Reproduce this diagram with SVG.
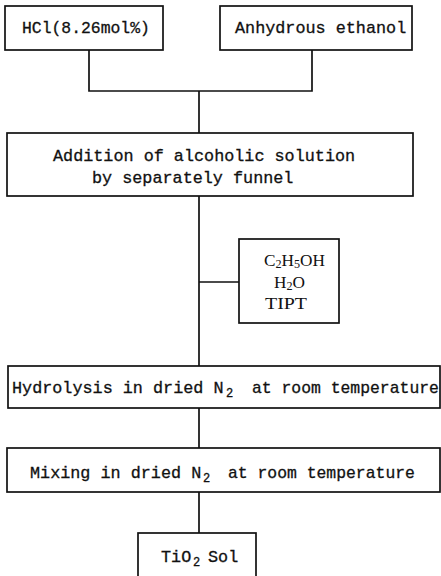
<svg xmlns="http://www.w3.org/2000/svg" width="441" height="576" viewBox="0 0 441 576">
<style>
.box{fill:#fff;stroke:#111;stroke-width:1.7}
.ln{fill:none;stroke:#111;stroke-width:1.7}
.t{font-family:"Liberation Mono","DejaVu Sans Mono",monospace;font-size:16.8px;fill:#111;stroke:#111;stroke-width:0.3}
.n{font-size:16.4px}
.s{font-family:"Liberation Serif","DejaVu Serif",serif;font-size:17px;fill:#111}
.sub{font-size:12px}
</style>
<rect width="441" height="576" fill="#fff"/>
<g id="connectors">
<path class="ln" d="M89 50V91H312V50M199 91V133M199 196V366M199 282H239M199 408V448M199 492V533"/>
</g>
<g id="hcl">
<rect class="box" x="5" y="6" width="158" height="44"/>
<text class="t n" x="22" y="33">HCl(8.26mol%)</text>
</g>
<g id="ethanol">
<rect class="box" x="220" y="6" width="192" height="44"/>
<text class="t" x="235" y="33">Anhydrous ethanol</text>
</g>
<g id="addition">
<rect class="box" x="7" y="133" width="406" height="63"/>
<text class="t" x="53" y="161">Addition of alcoholic solution</text>
<text class="t" x="92" y="183">by separately funnel</text>
</g>
<g id="reagents">
<rect class="box" x="239" y="239" width="100" height="84"/>
<text class="s" x="264" y="266" textLength="61" lengthAdjust="spacingAndGlyphs">C<tspan class="sub" dy="2">2</tspan><tspan dy="-2">H</tspan><tspan class="sub" dy="2">5</tspan><tspan dy="-2">OH</tspan></text>
<text class="s" x="274" y="288" textLength="31" lengthAdjust="spacingAndGlyphs">H<tspan class="sub" dy="2">2</tspan><tspan dy="-2">O</tspan></text>
<text class="s" x="265" y="309" textLength="42" lengthAdjust="spacingAndGlyphs">TIPT</text>
</g>
<g id="hydrolysis">
<rect class="box" x="8" y="366" width="432" height="42"/>
<text class="t" x="12" y="393">Hydrolysis in dried N</text>
<text class="t sub" x="226" y="397">2</text>
<text class="t n" x="252" y="393">at room temperature</text>
</g>
<g id="mixing">
<rect class="box" x="7" y="448" width="433" height="44"/>
<text class="t" x="30" y="478">Mixing in dried N</text>
<text class="t sub" x="203" y="482">2</text>
<text class="t n" x="228" y="478">at room temperature</text>
</g>
<g id="sol">
<rect class="box" x="138" y="533" width="118" height="50"/>
<text class="t" x="161" y="562">TiO</text>
<text class="t sub" x="193" y="566">2</text>
<text class="t" x="208" y="562">Sol</text>
</g>
</svg>
